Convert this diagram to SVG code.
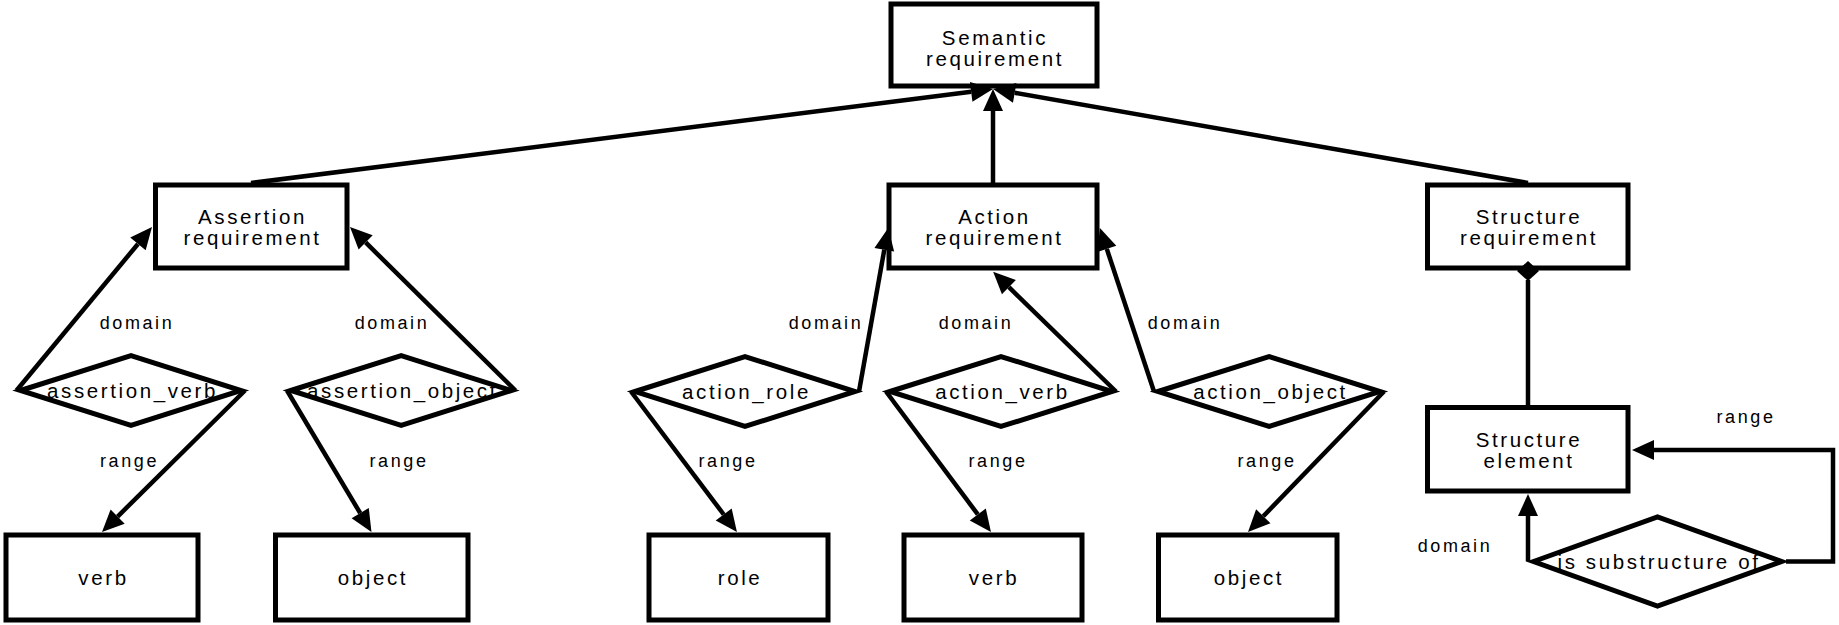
<svg xmlns="http://www.w3.org/2000/svg" width="1839" height="625" viewBox="0 0 1839 625">
  <style>
    .box { fill: #ffffff; stroke: #000000; stroke-width: 5; }
    .rel { fill: #ffffff; stroke: #000000; stroke-width: 5; stroke-linejoin: miter; stroke-miterlimit: 10; }
    .edge { fill: none; stroke: #000000; stroke-width: 4.5; }
    .name { font-family: "Liberation Sans", Arial, sans-serif; font-size: 20.5px; letter-spacing: 2.6px; text-anchor: middle; fill: #000000; }
    .lbl { font-family: "Liberation Sans", Arial, sans-serif; font-size: 18px; letter-spacing: 2.6px; text-anchor: middle; fill: #000000; }
  </style>
  <defs>
    <marker id="arrow" markerUnits="userSpaceOnUse" markerWidth="22" markerHeight="20" refX="0" refY="10" orient="auto" overflow="visible">
      <path d="M0,0 L22,10 L0,20 z" fill="#000000"/>
    </marker>
  </defs>
  <rect width="1839" height="625" fill="#ffffff"/>

  <!-- class nodes -->
  <g id="semantic-requirement">
    <rect class="box" x="891" y="4" width="206" height="82"/>
    <text class="name" x="995" y="45">Semantic</text>
    <text class="name" x="995" y="66">requirement</text>
  </g>
  <g id="assertion-requirement">
    <rect class="box" x="155.5" y="185" width="191.5" height="83"/>
    <text class="name" x="252.5" y="224">Assertion</text>
    <text class="name" x="252.5" y="245">requirement</text>
  </g>
  <g id="action-requirement">
    <rect class="box" x="889" y="185" width="208" height="83"/>
    <text class="name" x="994.5" y="224">Action</text>
    <text class="name" x="994.5" y="245">requirement</text>
  </g>
  <g id="structure-requirement">
    <rect class="box" x="1427.5" y="185" width="200.5" height="83"/>
    <text class="name" x="1529" y="224">Structure</text>
    <text class="name" x="1529" y="245">requirement</text>
  </g>
  <g id="structure-element">
    <rect class="box" x="1427.5" y="407.5" width="200.5" height="83.5"/>
    <text class="name" x="1529" y="447">Structure</text>
    <text class="name" x="1529" y="468">element</text>
  </g>
  <g id="verb-a">
    <rect class="box" x="6" y="535" width="192" height="85"/>
    <text class="name" x="103.5" y="585">verb</text>
  </g>
  <g id="object-a">
    <rect class="box" x="275.5" y="535" width="192.5" height="85"/>
    <text class="name" x="373" y="585">object</text>
  </g>
  <g id="role">
    <rect class="box" x="649" y="535" width="179" height="85"/>
    <text class="name" x="740" y="585">role</text>
  </g>
  <g id="verb-b">
    <rect class="box" x="904" y="535" width="178" height="85"/>
    <text class="name" x="994" y="585">verb</text>
  </g>
  <g id="object-b">
    <rect class="box" x="1158.5" y="535" width="178.5" height="85"/>
    <text class="name" x="1249" y="585">object</text>
  </g>

  <!-- relation nodes -->
  <g id="assertion-verb">
    <polygon class="rel" points="20.5,390.5 131,355.5 241,390.5 131,425.5"/>
    <text class="name" x="132.5" y="398">assertion_verb</text>
  </g>
  <g id="assertion-object">
    <polygon class="rel" points="290.8,390.5 401.2,355.5 511.5,390.5 401.2,425.5"/>
    <text class="name" x="402.5" y="398">assertion_object</text>
  </g>
  <g id="action-role">
    <polygon class="rel" points="635,391.5 745,356.5 855,391.5 745,426.5"/>
    <text class="name" x="746.5" y="399">action_role</text>
  </g>
  <g id="action-verb">
    <polygon class="rel" points="890,391.5 1001,356.5 1112,391.5 1001,426.5"/>
    <text class="name" x="1002.5" y="399">action_verb</text>
  </g>
  <g id="action-object">
    <polygon class="rel" points="1158,391.5 1269,356.5 1380,391.5 1269,426.5"/>
    <text class="name" x="1270.5" y="399">action_object</text>
  </g>
  <g id="is-substructure-of">
    <polygon class="rel" points="1533.5,561.5 1657.5,517 1781.5,561.5 1657.5,606"/>
    <text class="name" x="1659" y="569">is substructure of</text>
  </g>

  <!-- connectors -->
  <g id="connectors">
    <!-- specialisation into Semantic requirement -->
    <line class="edge" x1="251" y1="183" x2="971.2" y2="91.8" marker-end="url(#arrow)"/>
    <line class="edge" x1="993" y1="183" x2="993" y2="111" marker-end="url(#arrow)"/>
    <line class="edge" x1="1528" y1="183" x2="1014.7" y2="92.8" marker-end="url(#arrow)"/>

    <!-- assertion relations -->
    <line class="edge" x1="16.5" y1="390.5" x2="137.96" y2="243.94" marker-end="url(#arrow)"/>
    <line class="edge" x1="515.5" y1="390.5" x2="365.65" y2="242.46" marker-end="url(#arrow)"/>
    <line class="edge" x1="245" y1="390.5" x2="117.64" y2="516.53" marker-end="url(#arrow)"/>
    <line class="edge" x1="287" y1="390.5" x2="360.2" y2="513.1" marker-end="url(#arrow)"/>

    <!-- action relations -->
    <line class="edge" x1="859" y1="391.5" x2="884.3" y2="249.7" marker-end="url(#arrow)"/>
    <line class="edge" x1="1116" y1="391.5" x2="1008.9" y2="287.2" marker-end="url(#arrow)"/>
    <line class="edge" x1="1154" y1="391.5" x2="1106.8" y2="248.9" marker-end="url(#arrow)"/>
    <line class="edge" x1="631" y1="391.5" x2="723.7" y2="514.5" marker-end="url(#arrow)"/>
    <line class="edge" x1="886" y1="391.5" x2="977.8" y2="514.4" marker-end="url(#arrow)"/>
    <line class="edge" x1="1384" y1="391.5" x2="1263.3" y2="516.2" marker-end="url(#arrow)"/>

    <!-- structure relations -->
    <line class="edge" x1="1528" y1="280" x2="1528" y2="405"/>
    <polygon points="1528,261 1539,271 1528,281 1517,271" fill="#000000"/>
    <line class="edge" x1="1528" y1="561.5" x2="1528" y2="516" marker-end="url(#arrow)"/>
    <polyline class="edge" points="1786,561.5 1833,561.5 1833,450 1654,450" marker-end="url(#arrow)"/>

    <!-- edge labels -->
    <text class="lbl" x="137" y="329">domain</text>
    <text class="lbl" x="392" y="329">domain</text>
    <text class="lbl" x="129.5" y="467">range</text>
    <text class="lbl" x="399" y="467">range</text>
    <text class="lbl" x="826" y="329">domain</text>
    <text class="lbl" x="976" y="329">domain</text>
    <text class="lbl" x="1185" y="329">domain</text>
    <text class="lbl" x="728" y="467">range</text>
    <text class="lbl" x="998" y="467">range</text>
    <text class="lbl" x="1267" y="467">range</text>
    <text class="lbl" x="1746" y="423">range</text>
    <text class="lbl" x="1455" y="552">domain</text>
  </g>
</svg>
